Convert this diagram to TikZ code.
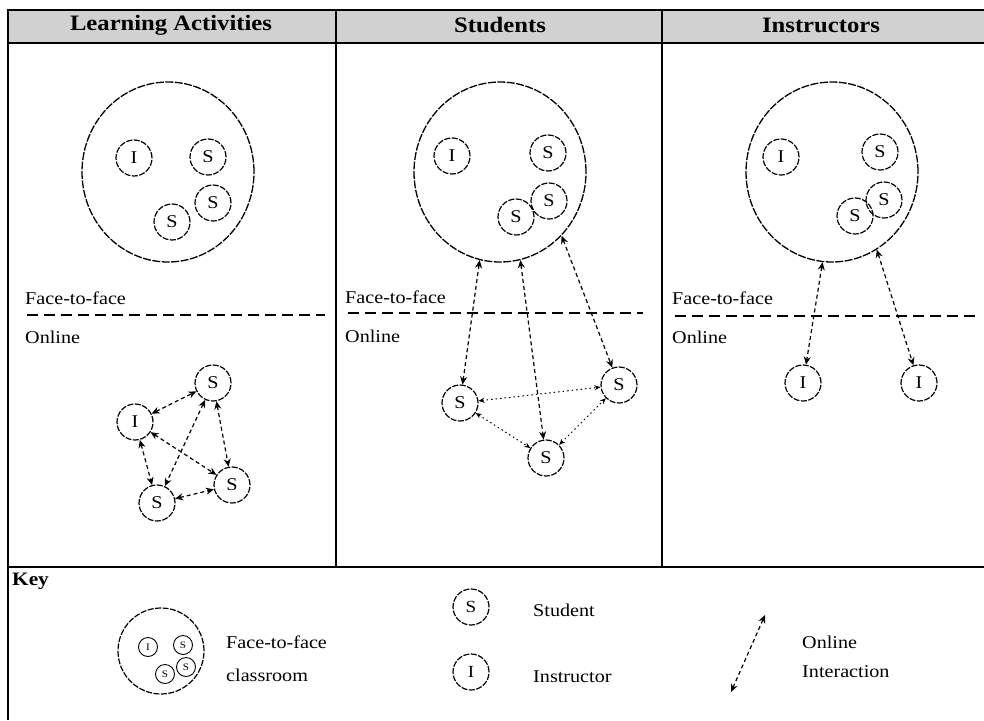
\documentclass[tikz,border=0pt]{standalone}
\usepackage{fontspec}
\setmainfont[FakeStretch=1.12]{Liberation Serif}
\usetikzlibrary{shapes.geometric,arrows.meta}
\begin{document}
\begin{tikzpicture}[x=1pt,y=-1pt,
  big/.style={ellipse,draw,line width=1.3pt,minimum width=172pt,minimum height=180pt,inner sep=0pt,dash pattern=on 8pt off 1.5pt},
  pers/.style={circle,draw,line width=1.2pt,minimum size=36pt,inner sep=0pt,font=\fontsize{18}{18}\selectfont,dash pattern=on 6pt off 1.5pt},
  tinyp/.style={circle,draw,line width=0.9pt,minimum size=19pt,inner sep=0pt,font=\fontsize{10}{10}\selectfont},
  keyp/.style={circle,draw,line width=1.2pt,minimum size=36pt,inner sep=0pt,font=\fontsize{17}{17}\selectfont,dash pattern=on 6pt off 1.5pt},
  link/.style={line width=1.2pt,dash pattern=on 4pt off 3pt,{Stealth[length=8pt,width=7pt]}-{Stealth[length=8pt,width=7pt]}},
  weak/.style={line width=1pt,dash pattern=on 1.5pt off 3pt,{Stealth[length=6pt,width=5pt]}-{Stealth[length=6pt,width=5pt]}},
  sepline/.style={line width=1.3pt,dash pattern=on 11pt off 6pt},
  lbl/.style={anchor=west,inner sep=0pt,font=\fontsize{18}{18}\selectfont},
  hdr/.style={inner sep=0pt,font=\bfseries\fontsize{22}{22}\selectfont},
  rule/.style={line width=1.5pt}
]
\useasboundingbox (0,0) rectangle (984,720);
% header band and table rules
\fill[black!18] (8,10) rectangle (984,43);
\draw[rule] (8,720) -- (8,10) -- (984,10);
\draw[line width=2.5pt] (8,43) -- (984,43);
\draw[rule] (336,10) -- (336,567);
\draw[rule] (662,10) -- (662,567);
\draw[line width=2pt] (8,567) -- (984,567);
\node[hdr] (h1) at (171,25) {Learning Activities};
\node[hdr] (h2) at (500,25) {Students};
\node[hdr] (h3) at (821,25) {Instructors};

% ---------- Panel 1 ----------
\node[big] (c1) at (168,172) {};
\node[pers] (c1i) at (134,158) {I};
\node[pers] (c1a) at (208,157) {S};
\node[pers] (c1b) at (213,203) {S};
\node[pers] (c1c) at (172,222) {S};
\node[lbl] (f1) at (25,298) {Face-to-face};
\coordinate (d1a) at (27,315);
\coordinate (d1b) at (325,315);
\draw[sepline] (d1a) -- (d1b);
\node[lbl] (o1) at (25,337) {Online};
\node[pers] (n1i) at (135,422) {I};
\node[pers] (n1a) at (213,383) {S};
\node[pers] (n1b) at (232,485) {S};
\node[pers] (n1c) at (157,503) {S};
\draw[link] (n1i) -- (n1a);
\draw[link] (n1i) -- (n1c);
\draw[link] (n1i) -- (n1b);
\draw[link] (n1a) -- (n1c);
\draw[link] (n1a) -- (n1b);
\draw[link] (n1c) -- (n1b);

% ---------- Panel 2 ----------
\node[big] (c2) at (500,172) {};
\node[pers] (c2i) at (452,156) {I};
\node[pers] (c2a) at (548,153) {S};
\node[pers] (c2b) at (549,201) {S};
\node[pers] (c2c) at (516,217) {S};
\node[lbl] (f2) at (345,297) {Face-to-face};
\coordinate (d2a) at (348,313);
\coordinate (d2b) at (643,313);
\draw[sepline] (d2a) -- (d2b);
\node[lbl] (o2) at (345,336) {Online};
\node[pers] (n2a) at (460,403) {S};
\node[pers] (n2b) at (619,385) {S};
\node[pers] (n2c) at (546,458) {S};
\draw[link] (c2.-103) -- (n2a);
\draw[link] (c2.-77) -- (n2c);
\draw[link] (c2.-46) -- (n2b);
\draw[weak] (n2a) -- (n2b);
\draw[weak] (n2a) -- (n2c);
\draw[weak] (n2c) -- (n2b);

% ---------- Panel 3 ----------
\node[big] (c3) at (832,172) {};
\node[pers] (c3i) at (781,157) {I};
\node[pers] (c3a) at (880,152) {S};
\node[pers] (c3b) at (884,200) {S};
\node[pers] (c3c) at (855,216) {S};
\node[lbl] (f3) at (672,298) {Face-to-face};
\coordinate (d3a) at (675,316);
\coordinate (d3b) at (975,316);
\draw[sepline] (d3a) -- (d3b);
\node[lbl] (o3) at (672,337) {Online};
\node[pers] (n3a) at (803,383) {I};
\node[pers] (n3b) at (919,383) {I};
\draw[link] (c3.-96) -- (n3a);
\draw[link] (c3.-60) -- (n3b);

% ---------- Key ----------
\node[anchor=west,inner sep=0pt,font=\bfseries\fontsize{19}{19}\selectfont] (key) at (12,581) {Key};
\node[circle,draw,line width=1.2pt,minimum size=86pt,inner sep=0pt,dash pattern=on 6pt off 1.5pt] (kc) at (161,651) {};
\node[tinyp] (kci) at (148,647) {I};
\node[tinyp] (kca) at (183,645) {S};
\node[tinyp] (kcb) at (186,667) {S};
\node[tinyp] (kcc) at (165,674) {S};
\node[lbl] (kt1) at (226,642) {Face-to-face};
\node[lbl] (kt2) at (226,675) {classroom};
\node[keyp] (ks) at (471,607) {S};
\node[lbl] (kst) at (533,610) {Student};
\node[keyp] (ki) at (471,672) {I};
\node[lbl] (kit) at (533,677) {Instructor};
\coordinate (ka) at (731,692);
\coordinate (kb) at (765,615);
\draw[link] (ka) -- (kb);
\node[lbl] (ko1) at (802,642) {Online};
\node[lbl] (ko2) at (802,672) {Interaction};
\end{tikzpicture}
\end{document}
